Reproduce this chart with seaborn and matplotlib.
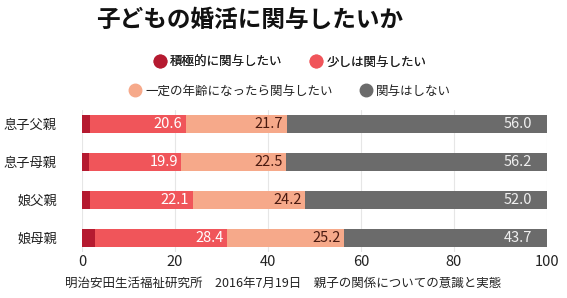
import numpy as np
import pandas as pd
import seaborn as sns
import matplotlib.pyplot as plt
from matplotlib.lines import Line2D

# data
groups = ["息子父親", "息子母親", "娘父親", "娘母親"]
series = ["積極的に関与したい", "少しは関与したい", "一定の年齢になったら関与したい", "関与はしない"]
active = [1.7, 1.4, 1.7, 2.7]
little = [20.6, 19.9, 22.1, 28.4]
at_age = [21.7, 22.5, 24.2, 25.2]
never = [56.0, 56.2, 52.0, 43.7]
colors = ["#b51a30", "#f0555a", "#f6a98a", "#6b6b6b"]
label_colors = [None, "white", "#4a1a10", "#f0f0f0"]
label_pads = [0, 0.7, 0.7, 3.2]  # in data units

sns.set_theme(style="white")
plt.rcParams["font.family"] = ["Noto Sans CJK JP", "DejaVu Sans"]

values = np.array([active, little, at_age, never])
cum = values.cumsum(axis=0)

fig = plt.figure(figsize=(5.67, 2.98), dpi=100)
ax = fig.add_axes([82 / 567, 1 - 252 / 298, 465 / 567, 142 / 298])

# stacked bars: draw cumulative totals from the longest down
for i in range(3, -1, -1):
    df = pd.DataFrame({"group": groups, "value": cum[i]})
    sns.barplot(data=df, x="value", y="group", orient="h", color=colors[i],
                saturation=1, width=0.48, linewidth=0, ax=ax, zorder=3)

for i in range(1, 4):
    for j in range(len(groups)):
        ax.text(cum[i][j] - label_pads[i], j, f"{values[i][j]:.1f}",
                ha="right", va="center", color=label_colors[i], fontsize=10.5, zorder=4)

ax.set_xlim(0, 100)
ax.set_ylim(3.37, -0.37)
ax.set_xticks([0, 20, 40, 60, 80, 100])
ax.xaxis.grid(True, color="#e6e6e6", linewidth=0.8, zorder=0)
ax.set_axisbelow(True)
for s in ax.spines.values():
    s.set_visible(False)
ax.set_xlabel("")
ax.set_ylabel("")
ax.tick_params(axis="x", labelsize=10.5, colors="#222222", pad=2, length=0)
ax.tick_params(axis="y", labelsize=9.5, colors="#222222", pad=18, length=0)

fig.text(250 / 567, 1 - 20 / 298, "子どもの婚活に関与したいか", ha="center", va="center",
         fontsize=17, fontweight="bold", color="#111111")

def circle(c):
    return Line2D([], [], marker="o", linestyle="", markersize=9, markerfacecolor=c,
                  markeredgecolor=c)

leg1 = fig.legend([circle(colors[0]), circle(colors[1])], series[:2], ncol=2,
                  loc="center", bbox_to_anchor=(290 / 567, 1 - 62 / 298), frameon=False,
                  fontsize=9, handletextpad=0.3, columnspacing=2.2, handlelength=1.0)
leg2 = fig.legend([circle(colors[2]), circle(colors[3])], series[2:], ncol=2,
                  loc="center", bbox_to_anchor=(290 / 567, 1 - 91 / 298), frameon=False,
                  fontsize=9, handletextpad=0.3, columnspacing=2.2, handlelength=1.0)
fig.add_artist(leg1)
for leg in (leg1, leg2):
    for t in leg.get_texts():
        t.set_color("#222222")

fig.text(65 / 567, 1 - 283 / 298, "明治安田生活福祉研究所　2016年7月19日　親子の関係についての意識と実態",
         ha="left", va="center", fontsize=9, color="#222222")

fig.savefig("out.png", dpi=100, facecolor="white")
